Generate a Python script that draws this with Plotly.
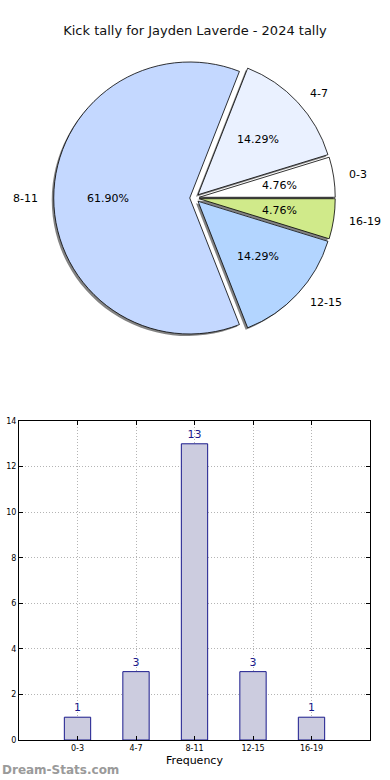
import math
import plotly.graph_objects as go

title_text = "Kick tally for Jayden Laverde - 2024 tally"
categories = ["0-3", "4-7", "8-11", "12-15", "16-19"]
counts = [1, 3, 13, 3, 1]
slice_colors = ["#ffffff", "#eaf1ff", "#c4d8ff", "#b3d5ff", "#d0ea8a"]
y_ticks = [0, 2, 4, 6, 8, 10, 12, 14]

W, H = 390, 780
FONT = "DejaVu Sans"

PULL = 0.035
pull = [PULL] * len(categories)
total = sum(counts)
# plotly: a counterclockwise pie starts its first slice at `rotation` going clockwise,
# so shift so that the first slice begins at 3 o'clock and runs upward.
rotation = 90 - 360.0 * counts[0] / total

# pie geometry (pixels)
cx, cy, R = 194.5, 198.0, 136.0
half = R * (1 + PULL)


def dom(cx, cy, half):
    return dict(x=[(cx - half) / W, (cx + half) / W],
                y=[1 - (cy + half) / H, 1 - (cy - half) / H])


fig = go.Figure()

# shadow
fig.add_trace(go.Pie(
    labels=categories, values=counts, sort=False, direction="counterclockwise",
    rotation=rotation, pull=pull, domain=dom(cx - 2, cy + 2, half),
    marker=dict(colors=["rgba(90,90,90,0.75)"] * 5, line=dict(width=0)),
    textinfo="none", hoverinfo="skip", showlegend=False,
))

# main pie
fig.add_trace(go.Pie(
    labels=categories, values=counts, sort=False, direction="counterclockwise",
    rotation=rotation, pull=pull, domain=dom(cx, cy, half),
    marker=dict(colors=slice_colors, line=dict(color="#000000", width=0.8)),
    textinfo="none", showlegend=False,
))

annotations = []
# percentage and label text, placed from the slice angles
acc = 0.0
for cat, v in zip(categories, counts):
    mid = math.radians(360.0 * (acc + v / 2.0) / total)
    acc += v
    c, s = math.cos(mid), math.sin(mid)
    for dist, txt, is_label in [(0.6, f"{100.0 * v / total:.2f}%", False),
                                (1.1, cat, True)]:
        d = (PULL + dist) * R
        px, py = cx + d * c, cy - d * s
        if is_label:
            xa = "left" if c > 0.01 else ("right" if c < -0.01 else "center")
        else:
            xa = "center"
        annotations.append(dict(text=txt, x=px / W, y=1 - py / H, xref="paper", yref="paper",
                                xanchor=xa, yanchor="middle", showarrow=False,
                                font=dict(family=FONT, size=11, color="#000000")))

# bar chart
fig.add_trace(go.Bar(
    x=categories, y=counts, width=0.45,
    marker=dict(color="#ccccdf", line=dict(color="#1a1a8c", width=1)),
    text=[str(v) for v in counts], textposition="outside",
    textfont=dict(family=FONT, size=11, color="#1a1a8c"),
    cliponaxis=False, showlegend=False, xaxis="x", yaxis="y",
))

grid = dict(showgrid=True, gridcolor="#b4b4b4", griddash="1px,2px", gridwidth=1)

annotations.append(dict(text="<b>Dream-Stats.com</b>", x=0, y=1 - 770 / H,
                        xref="paper", yref="paper", xanchor="left", yanchor="middle",
                        showarrow=False, font=dict(family=FONT, size=12, color="#9a9a9a")))

fig.update_layout(
    width=W, height=H, autosize=False,
    margin=dict(l=0, r=0, t=0, b=0, pad=0),
    paper_bgcolor="white", plot_bgcolor="white",
    font=dict(family=FONT, color="#000000"),
    title=dict(text=title_text, x=0.5, xanchor="center", y=1 - 30 / H,
               yanchor="middle", automargin=False,
               font=dict(family=FONT, size=13, color="#111111")),
    xaxis=dict(domain=[19 / W, 370 / W], range=[-1, 5], type="category",
               categoryorder="array", categoryarray=categories, automargin=False,
               showline=True, linecolor="#000000", linewidth=1, mirror="ticks",
               ticks="inside", ticklen=4, tickcolor="#000000",
               tickfont=dict(family=FONT, size=8, color="#000000"),
               title=dict(text="Frequency", font=dict(family=FONT, size=11), standoff=4),
               zeroline=False, fixedrange=True, **grid),
    yaxis=dict(domain=[1 - 740 / H, 1 - 421 / H], range=[0, 14], automargin=False,
               tickvals=y_ticks, ticktext=[str(v) for v in y_ticks],
               showline=True, linecolor="#000000", linewidth=1, mirror="ticks",
               ticks="inside", ticklen=4, tickcolor="#000000",
               tickfont=dict(family=FONT, size=8, color="#000000"),
               zeroline=False, fixedrange=True, **grid),
    annotations=annotations,
)

post = ("var d=document.documentElement,b=document.body;"
        "d.style.margin='0';d.style.padding='0';d.style.overflow='hidden';"
        "b.style.margin='0';b.style.padding='0';b.style.overflow='hidden';")

fig.write_html("out.html", config={"displayModeBar": False}, post_script=post)
